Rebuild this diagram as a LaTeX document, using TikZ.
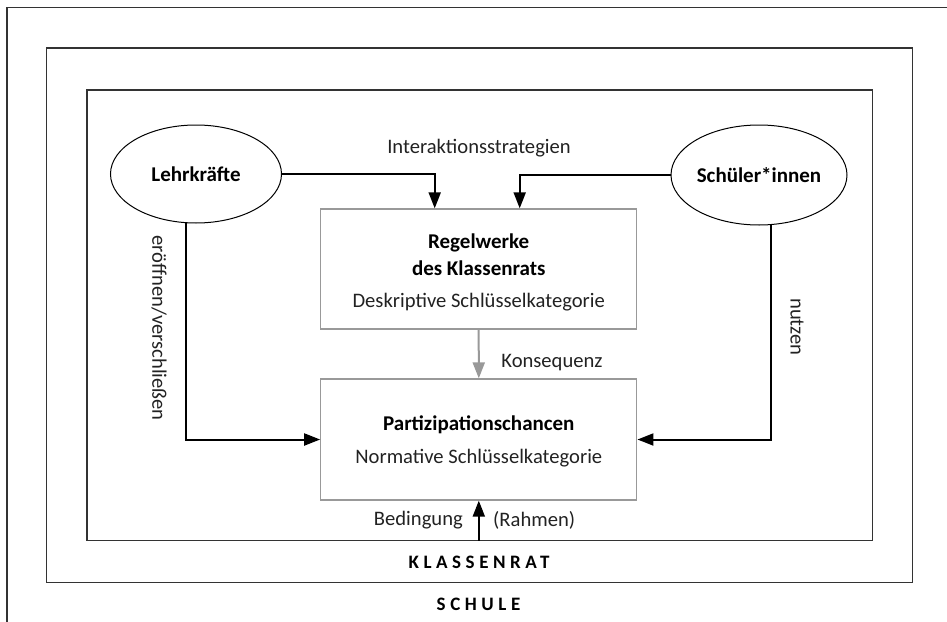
\documentclass[tikz,border=0pt]{standalone}
\usepackage{fontspec}
\setmainfont{Carlito}
\newfontfamily\spacedfont[LetterSpace=24]{Carlito}
\usetikzlibrary{shapes.geometric,arrows.meta}
\definecolor{framegray}{HTML}{333333}
\definecolor{boxgray}{HTML}{999999}
\definecolor{txtgray}{HTML}{222222}
\tikzset{
  frame/.style={draw=framegray,line width=1.3pt},
  actor/.style={ellipse,draw=black,line width=1pt,inner sep=0pt,font=\bfseries\fontsize{21}{25}\selectfont},
  catbox/.style={rectangle,draw=boxgray,line width=1.3pt,inner sep=0pt,minimum width=316pt},
  arr/.style={draw=black,line width=2pt,-{Triangle[length=16pt,width=12pt]}},
  grayarr/.style={draw=boxgray,line width=2pt,-{Triangle[length=16pt,width=12pt]}},
  lbl/.style={font=\fontsize{20.6}{24}\selectfont,text=txtgray,inner sep=0pt},
  ttl/.style={font=\bfseries\fontsize{21}{25}\selectfont,inner sep=0pt},
  caps/.style={font=\spacedfont\bfseries\fontsize{19}{22}\selectfont,inner sep=0pt}
}
\begin{document}
\begin{tikzpicture}[x=1pt,y=-1pt]
\clip (0,0) rectangle (947,621);
\useasboundingbox (0,0) rectangle (947,621);
% frames
\draw[frame] (7,640) -- (7,7.5) -- (960,7.5);
\draw[frame] (46.7,48) rectangle (912.7,582.7);
\draw[frame] (87,90) rectangle (872.5,540.5);
% actors
\node[actor,minimum width=171pt,minimum height=98pt] (L) at (196,174) {Lehrkräfte};
\node[actor,minimum width=172pt,minimum height=100pt] (S) at (759,175) {Schüler*innen};
% boxes
\node[catbox,minimum height=120pt] (B1) at (478.7,269) {};
\node[catbox,minimum height=121pt] (B2) at (478.8,439.5) {};
\node[ttl] (b1a) at (478.7,243) {Regelwerke};
\node[ttl] (b1b) at (478.7,268) {des Klassenrats};
\node[lbl] (b1c) at (478.7,302) {Deskriptive Schlüsselkategorie};
\node[ttl] (b2a) at (478.8,425) {Partizipationschancen};
\node[lbl] (b2b) at (478.8,458) {Normative Schlüsselkategorie};
% connectors
\draw[arr] (L.east) -| ([xshift=-44pt]B1.north);
\draw[arr] (S.west) -| ([xshift=41pt]B1.north);
\draw[arr] (L.-101.6) |- (B2.west);
\draw[arr] (S.-76.7) |- (B2.east);
\draw[grayarr] (B1.south) -- (B2.north);
\coordinate (kb) at (478.8,540.5);
\draw[arr] (kb) -- (B2.south);
% labels
\node[lbl] (li) at (479,148) {Interaktionsstrategien};
\node[lbl,rotate=-90] (le) at (159,328) {eröffnen/verschließen};
\node[lbl,rotate=-90] (ln) at (797,327) {nutzen};
\node[lbl] (lk) at (552,363) {Konsequenz};
\node[lbl,anchor=east] (lb) at (463,520) {Bedingung};
\node[lbl,anchor=west] (lr) at (493,520) {(Rahmen)};
\node[caps] (kr) at (479,562) {KLASSENRAT};
\node[caps] (sc) at (478.5,604) {SCHULE};
\end{tikzpicture}
\end{document}
